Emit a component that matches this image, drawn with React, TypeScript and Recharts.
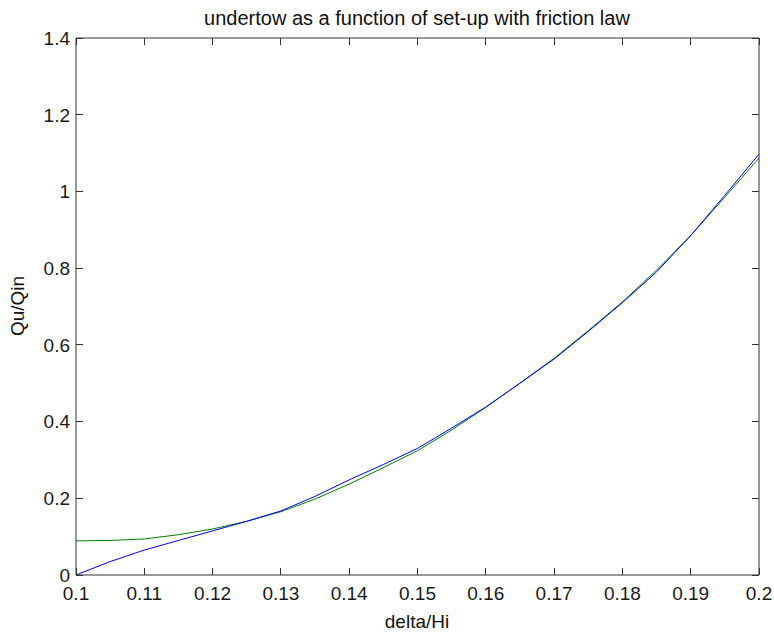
import { Line, LineChart, XAxis, YAxis } from "recharts"

const deltaHi = [
  0.1, 0.105, 0.11, 0.115, 0.12, 0.125, 0.13, 0.135, 0.14, 0.145, 0.15,
  0.155, 0.16, 0.165, 0.17, 0.175, 0.18, 0.185, 0.19, 0.195, 0.2,
]
const quBlue = [
  0, 0.035, 0.065, 0.09, 0.115, 0.14, 0.167, 0.205, 0.248, 0.288, 0.33,
  0.383, 0.438, 0.5, 0.563, 0.635, 0.71, 0.79, 0.885, 0.99, 1.097,
]
const quGreen = [
  0.089, 0.09, 0.094, 0.105, 0.12, 0.14, 0.165, 0.198, 0.237, 0.28, 0.324,
  0.378, 0.437, 0.5, 0.565, 0.637, 0.712, 0.795, 0.885, 0.985, 1.087,
]
const xTicks = [0.1, 0.11, 0.12, 0.13, 0.14, 0.15, 0.16, 0.17, 0.18, 0.19, 0.2]
const yTicks = [0, 0.2, 0.4, 0.6, 0.8, 1, 1.2, 1.4]
const xDomain = [0.1, 0.2]
const yDomain = [0, 1.4]

const data = deltaHi.map((x, i) => ({ x, blue: quBlue[i], green: quGreen[i] }))

const W = 774
const H = 633
// plot box edges; chart margins below are derived from these
const BOX = { left: 76, right: 759, top: 38, bottom: 575 }

const FONT = "'Liberation Sans', Arial, Helvetica, sans-serif"
const AXIS = "#333333"
const TICK_LEN = 7

// recharts still offsets tick labels by its default tickSize (6) when tickLine is off
function BottomTick({ x, y, payload }: any) {
  return (
    <text x={x} y={y + 19} textAnchor="middle" fontSize={19} fill="#1a1a1a">
      {String(payload.value)}
    </text>
  )
}

function LeftTick({ x, y, payload }: any) {
  return (
    <text x={x} y={y} dy="0.36em" textAnchor="end" fontSize={19} fill="#1a1a1a">
      {String(payload.value)}
    </text>
  )
}

// inward tick marks on all four sides of the box, drawn on top of the chart
function BoxTicks() {
  const px = (v: number) => BOX.left + ((v - xDomain[0]) / (xDomain[1] - xDomain[0])) * (BOX.right - BOX.left)
  const py = (v: number) => BOX.bottom - ((v - yDomain[0]) / (yDomain[1] - yDomain[0])) * (BOX.bottom - BOX.top)
  return (
    <svg width={W} height={H} style={{ position: "absolute", left: 0, top: 0, pointerEvents: "none" }}>
      <g stroke={AXIS} strokeWidth={1} shapeRendering="crispEdges">
        {xTicks.map((v) => (
          <g key={"x" + v}>
            <line x1={px(v)} x2={px(v)} y1={BOX.bottom} y2={BOX.bottom - TICK_LEN} />
            <line x1={px(v)} x2={px(v)} y1={BOX.top} y2={BOX.top + TICK_LEN} />
          </g>
        ))}
        {yTicks.map((v) => (
          <g key={"y" + v}>
            <line x1={BOX.left} x2={BOX.left + TICK_LEN} y1={py(v)} y2={py(v)} />
            <line x1={BOX.right} x2={BOX.right - TICK_LEN} y1={py(v)} y2={py(v)} />
          </g>
        ))}
      </g>
    </svg>
  )
}

export default function App() {
  return (
    <div style={{ position: "absolute", left: 0, top: 0, width: W, height: H, background: "#fff", fontFamily: FONT }}>
      <LineChart
        width={W}
        height={H}
        data={data}
        margin={{ top: BOX.top - 1, right: W - BOX.right - 1, bottom: 0, left: 0 }}
      >
        <XAxis
          xAxisId="b"
          dataKey="x"
          type="number"
          domain={xDomain}
          ticks={xTicks}
          height={H - BOX.bottom}
          tickLine={false}
          tickMargin={0}
          axisLine={{ stroke: AXIS }}
          tick={<BottomTick />}
          interval={0}
        />
        <XAxis
          xAxisId="t"
          orientation="top"
          dataKey="x"
          type="number"
          domain={xDomain}
          ticks={xTicks}
          height={1}
          tickLine={false}
          axisLine={{ stroke: AXIS }}
          tick={false}
        />
        <YAxis
          yAxisId="l"
          type="number"
          domain={yDomain}
          ticks={yTicks}
          width={BOX.left}
          tickLine={false}
          tickMargin={0}
          axisLine={{ stroke: AXIS }}
          tick={<LeftTick />}
          interval={0}
        />
        <YAxis
          yAxisId="r"
          orientation="right"
          type="number"
          domain={yDomain}
          ticks={yTicks}
          width={1}
          tickLine={false}
          axisLine={{ stroke: AXIS }}
          tick={false}
        />
        <Line xAxisId="b" yAxisId="l" type="linear" dataKey="green" stroke="#008000" strokeWidth={1} dot={false} isAnimationActive={false} />
        <Line xAxisId="b" yAxisId="l" type="linear" dataKey="blue" stroke="#0000ff" strokeWidth={1} dot={false} isAnimationActive={false} />
        <text x={417} y={25} textAnchor="middle" fontSize={20} fill="#111">
          undertow as a function of set-up with friction law
        </text>
        <text x={417} y={628} textAnchor="middle" fontSize={19} fill="#111">
          delta/Hi
        </text>
        <text x={24} y={306} textAnchor="middle" fontSize={19} fill="#111" transform="rotate(-90 24 306)">
          Qu/Qin
        </text>
      </LineChart>
      <BoxTicks />
    </div>
  )
}
